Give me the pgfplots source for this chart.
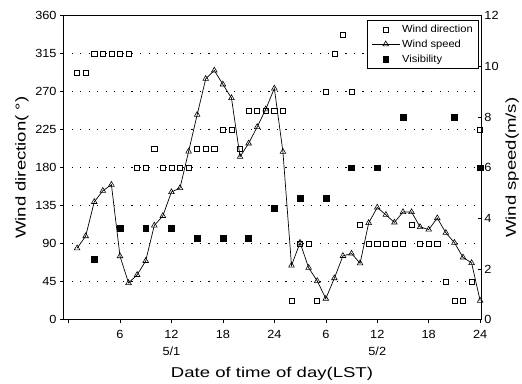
\documentclass[border=0pt]{standalone}
\usepackage{fontspec}
\setmainfont{Liberation Sans}[FakeStretch=1.08]
\newfontfamily\labfont{Liberation Sans}[FakeStretch=1.3]
\usepackage{pgfplots}
\pgfplotsset{compat=1.18}
\begin{document}
\begin{tikzpicture}
\pgfplotsset{
  common/.style={
    scale only axis, width=425pt, height=309pt,
    xmin=-0.65, xmax=48.1,
    /pgf/number format/assume math mode=true,
    tick label style={font=\fontsize{12}{14}\selectfont},
    label style={font=\labfont\fontsize{14.5}{17}\selectfont},
    axis line style={line width=0.8pt},
    major tick length=3pt,
    tick style={black, line width=0.6pt},
  }
}
\begin{axis}[common, name=ax,
  ymin=0, ymax=360, ytick={0,45,...,360},
  xtick={0,6,...,48}, xticklabels={,6,12\\5/1,18,24,6,12\\5/2,18,24},
  xticklabel style={align=center, font=\fontsize{12}{18}\selectfont, yshift=-4pt},
  xtick pos=bottom, ytick pos=left, tick align=outside,
  ymajorgrids=true,
  major grid style={draw=black, line width=1pt, dash pattern=on 1.2pt off 7.5pt},
  xlabel={Date of time of day(LST)},
  xlabel style={yshift=-4pt},
  ylabel={Wind direction( °)},
]
\addplot[only marks, mark=square, mark size=2.6pt, mark options={line width=0.6pt, fill=white}] table {
h d
1 292.5
2 292.5
3 315
4 315
5 315
6 315
7 315
8 180
9 180
10 202.5
11 180
12 180
13 180
14 180
15 202.5
16 202.5
17 202.5
18 225
19 225
20 202.5
21 247.5
22 247.5
23 247.5
24 247.5
25 247.5
26 22.5
27 90
28 90
29 22.5
30 270
31 315
32 337.5
33 270
34 112.5
35 90
36 90
37 90
38 90
39 90
40 112.5
41 90
42 90
43 90
44 45
45 22.5
46 22.5
47 45
48 225
};
\end{axis}
\begin{axis}[common, axis x line=none, axis y line*=right,
  ymin=0, ymax=12, ytick={0,2,...,12}, tick align=inside,
  ylabel={Wind speed(m/s)},
  legend image code/.code={\draw[mark repeat=2,mark phase=2,#1] plot coordinates {(0cm,0cm)(0.5cm,0cm)(1cm,0cm)};},
  legend style={at={(0.995,0.987)}, anchor=north east, draw=black, line width=0.6pt, fill=white,
    font=\fontsize{10.5}{12.6}\selectfont, row sep=2pt, inner xsep=4pt, inner ysep=3pt,
    /tikz/every even column/.append style={column sep=4pt}},
  legend cell align=left,
]
\addlegendimage{only marks, mark=square, mark size=2.6pt, mark options={line width=0.6pt, fill=white}}
\addlegendentry{Wind direction}
\addplot[black, line width=0.7pt, mark=triangle, mark size=3.3pt, mark options={fill=white, line width=0.6pt}] table {
h v
1 2.82
2 3.30
3 4.65
4 5.09
5 5.33
6 2.51
7 1.45
8 1.77
9 2.32
10 3.72
11 4.10
12 5.04
13 5.20
14 6.64
15 8.09
16 9.51
17 9.84
18 9.29
19 8.75
20 6.43
21 6.96
22 7.61
23 8.31
24 9.13
25 6.63
26 2.14
27 3.04
28 2.05
29 1.53
30 0.83
31 1.64
32 2.52
33 2.61
34 2.23
35 3.82
36 4.43
37 4.14
38 3.84
39 4.25
40 4.25
41 3.66
42 3.56
43 4.01
44 3.43
45 3.04
46 2.46
47 2.24
48 0.75
};
\addlegendentry{Wind speed}
\addplot[only marks, mark=square*, mark size=3pt] table {
h vis
3 2.4
6 3.6
9 3.6
12 3.6
15 3.2
18 3.2
21 3.2
24 4.4
27 4.8
30 4.8
33 6
36 6
39 8
45 8
48 6
};
\addlegendentry{Visibility}
\end{axis}
\path ([xshift=-64pt,yshift=-60pt]ax.south west) rectangle ([xshift=33pt,yshift=16pt]ax.north east);
\end{tikzpicture}
\end{document}
